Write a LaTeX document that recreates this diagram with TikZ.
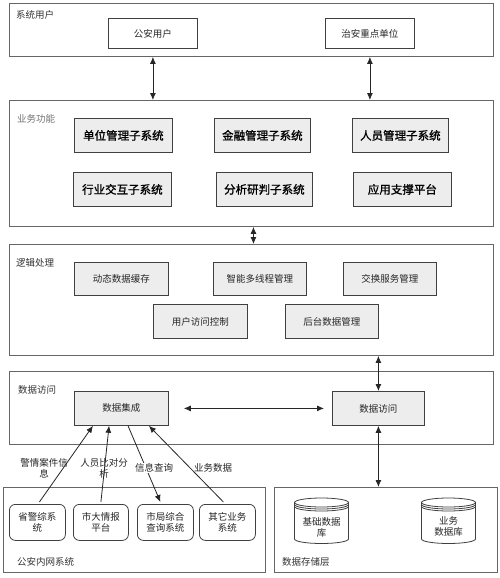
\documentclass[tikz,border=0pt]{standalone}
\usepackage{fontspec}
\setmainfont{Noto Sans CJK SC}
\newfontfamily\heifont{Noto Sans CJK SC}[FakeBold=1.3]
\usetikzlibrary{arrows.meta,calc}
\newcommand\myfs{\fontsize{9.5}{11}\selectfont}
\newcommand\mybig{\heifont\fontsize{11.5}{13}\selectfont}
\begin{document}
\begin{tikzpicture}[x=1pt,y=-1pt,
  obox/.style={draw=black!60,line width=0.9pt,anchor=north west,inner sep=0pt},
  wbox/.style={draw=black!75,fill=white,line width=0.8pt,anchor=north west,inner sep=0pt,font=\myfs,text=black!85},
  gbox/.style={wbox,fill=black!7},
  bbox/.style={gbox,font=\mybig,text=black},
  rbox/.style={wbox,rounded corners=6pt,align=center},
  lbl/.style={anchor=west,inner sep=0pt,font=\myfs,text=black!80},
  elbl/.style={inner sep=0pt,font=\myfs,text=black!85,align=center},
  arr/.style={-{Latex[length=7pt,width=6pt]},line width=0.8pt,black!85},
  darr/.style={{Latex[length=7pt,width=6pt]}-{Latex[length=7pt,width=6pt]},line width=0.8pt,black!85},
  cyl/.style={draw=black!75,line width=0.8pt},
  dbcyl/.pic={
    \draw[cyl] (0,0) ellipse [x radius=27, y radius=4.5];
    \draw[cyl] (-27,0) -- (-27,36.5) arc[start angle=180,end angle=0,x radius=27,y radius=4.5] -- (27,0);
    \draw[cyl] (-27,2) arc[start angle=180,end angle=0,x radius=27,y radius=4.5];
    \draw[cyl] (-27,4) arc[start angle=180,end angle=0,x radius=27,y radius=4.5];
  }]
\fill[white] (0,0) rectangle (500,578);
\useasboundingbox (0,0) rectangle (500,578);

% 系统用户
\node[obox,minimum width=484pt,minimum height=53pt] (sys) at (9,3) {};
\node[lbl] (sysl) at (16,15) {系统用户};
\node[wbox,minimum width=89pt,minimum height=30pt] (ga) at (108,18) {公安用户};
\node[wbox,minimum width=89pt,minimum height=30pt] (za) at (325,18) {治安重点单位};

% 业务功能
\node[obox,minimum width=484pt,minimum height=126pt] (biz) at (9,100) {};
\node[lbl,text=black!55] (bizl) at (17,119) {业务功能};
\node[bbox,minimum width=98pt,minimum height=34pt] (b1) at (74,118) {单位管理子系统};
\node[bbox,minimum width=96pt,minimum height=34pt] (b2) at (214,118) {金融管理子系统};
\node[bbox,minimum width=96pt,minimum height=34pt] (b3) at (352,118) {人员管理子系统};
\node[bbox,minimum width=98pt,minimum height=34pt] (b4) at (73,172) {行业交互子系统};
\node[bbox,minimum width=96pt,minimum height=34pt] (b5) at (216,172) {分析研判子系统};
\node[bbox,minimum width=98pt,minimum height=34pt] (b6) at (353,172) {应用支撑平台};

% 逻辑处理
\node[obox,minimum width=484pt,minimum height=111pt] (logic) at (9,244) {};
\node[lbl] (logicl) at (16,263) {逻辑处理};
\node[gbox,minimum width=94pt,minimum height=33pt] (l1) at (74,262) {动态数据缓存};
\node[gbox,minimum width=93pt,minimum height=33pt] (l2) at (213,262) {智能多线程管理};
\node[gbox,minimum width=93pt,minimum height=33pt] (l3) at (343,262) {交换服务管理};
\node[gbox,minimum width=94pt,minimum height=34pt] (l4) at (153,304) {用户访问控制};
\node[gbox,minimum width=93pt,minimum height=34pt] (l5) at (285,304) {后台数据管理};

% 数据访问
\node[obox,minimum width=484pt,minimum height=73pt] (acc) at (9,371) {};
\node[lbl] (accl) at (18,390) {数据访问};
\node[gbox,minimum width=94pt,minimum height=34pt] (di) at (74,391) {数据集成};
\node[gbox,minimum width=92pt,minimum height=34pt] (da) at (332,391) {数据访问};

% 公安内网系统
\node[obox,minimum width=262pt,minimum height=85pt] (net) at (3,487) {};
\node[lbl] (netl) at (17,562) {公安内网系统};
\node[rbox,minimum width=56pt,minimum height=36pt] (r1) at (9,504) {省警综系\\统};
\node[rbox,minimum width=55pt,minimum height=36pt] (r2) at (73,504) {市大情报\\平台};
\node[rbox,minimum width=56pt,minimum height=36pt] (r3) at (137,504) {市局综合\\查询系统};
\node[rbox,minimum width=56pt,minimum height=36pt] (r4) at (199,504) {其它业务\\系统};

% 数据存储层
\node[obox,minimum width=223pt,minimum height=85pt] (store) at (274,487) {};
\node[lbl] (storel) at (282,562) {数据存储层};
\pic at (321.5,502.5) {dbcyl};
\pic at (448.5,502.5) {dbcyl};
\node[elbl] (db1) at (321.5,527.5) {基础数据\\库};
\node[elbl] (db2) at (448.5,526.5) {业务\\数据库};

% connectors between layers
\draw[darr] (ga |- sys.south) -- (ga |- biz.north);
\draw[darr] (za |- sys.south) -- (za |- biz.north);
\draw[darr] ($(biz.south)+(2,0)$) -- ($(logic.north)+(2,0)$);
\draw[darr] (da |- logic.south) -- (da.north);
\draw[darr] (da.south) -- (da |- store.north);
\draw[darr,shorten <=15pt,shorten >=8pt] (di) -- (da);

% data integration links
\draw[arr] ($(r1.north)+(2,-2)$) -- ($(di.south west)!0.2!(di.south east)$);
\draw[arr] ($(r2.north)+(0,-2)$) -- ($(di.south west)!0.37!(di.south east)$);
\draw[arr] ($(di.south west)!0.57!(di.south east)$) -- ($(r3.north)+(-5,-2)$);
\draw[arr] ($(r4.north)+(-4,-2)$) -- ($(di.south west)!0.79!(di.south east)$);

\node[elbl] (t1) at (44,468) {警情案件信\\息};
\node[elbl] (t2) at (104,468) {人员比对分\\析};
\node[elbl,fill=white,inner sep=1pt] (t3) at (154,468) {信息查询};
\node[elbl] (t4) at (213,468) {业务数据};
\end{tikzpicture}
\end{document}
